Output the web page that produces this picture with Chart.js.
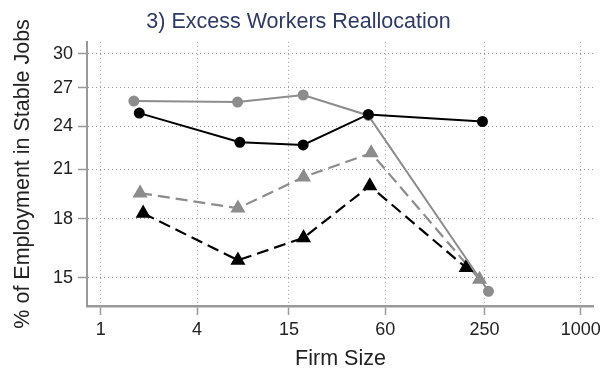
<!DOCTYPE html>
<html>
<head>
<meta charset="utf-8">
<script src="https://cdn.jsdelivr.net/npm/chart.js@4"></script>
<style>
  html, body { margin: 0; padding: 0; background: #fff; }
  #wrap { width: 605px; height: 381px; }
</style>
</head>
<body>
<div id="wrap"><canvas id="chart" width="605" height="381"></canvas></div>
<script>
// Firm size ticks and employment ticks (both axes logarithmic)
const xTicks = [1, 4, 15, 60, 250, 1000];
const yTicks = [15, 18, 21, 24, 27, 30];

// Series: firm size (x) and % employment (y)
const blackCircleX = [1.74, 7.4, 18.4, 47, 243];
const blackCircleY = [24.98, 22.82, 22.64, 24.88, 24.34];

const grayCircleX = [1.61, 7.16, 18.4, 47, 265];
const grayCircleY = [25.93, 25.85, 26.42, 24.8, 14.39];

const grayTriangleX = [1.76, 7.2, 18.5, 49, 233];
const grayTriangleY = [19.5, 18.61, 20.49, 22.08, 14.93];

const blackTriangleX = [1.84, 7.2, 18.5, 48, 192];
const blackTriangleY = [18.32, 15.84, 16.98, 19.94, 15.48];

const colors = {
    black: '#000000',
    gray: '#8c8c8c',
    axis: '#999999',
    grid: '#9a9a9a',
    text: '#222222',
    title: '#2e3a66'
};

const toPoints = (xs, ys) => xs.map((x, i) => ({ x: x, y: ys[i] }));

const fontFamily = '"Liberation Sans", Arial, Helvetica, sans-serif';

const ctx = document.getElementById('chart').getContext('2d');
new Chart(ctx, {
    type: 'scatter',
    data: {
        datasets: [{
            data: toPoints(blackCircleX, blackCircleY),
            showLine: true,
            borderColor: colors.black,
            backgroundColor: colors.black,
            borderWidth: 2,
            pointStyle: 'circle',
            pointRadius: 4.5
        }, {
            data: toPoints(grayCircleX, grayCircleY),
            showLine: true,
            borderColor: colors.gray,
            backgroundColor: colors.gray,
            borderWidth: 2,
            pointStyle: 'circle',
            pointRadius: 4.5
        }, {
            data: toPoints(blackTriangleX, blackTriangleY),
            showLine: true,
            borderColor: colors.black,
            backgroundColor: colors.black,
            borderWidth: 2.2,
            borderDash: [12, 6],
            pointStyle: 'triangle',
            pointRadius: 6.5
        }, {
            data: toPoints(grayTriangleX, grayTriangleY),
            showLine: true,
            borderColor: colors.gray,
            backgroundColor: colors.gray,
            borderWidth: 2.2,
            borderDash: [12, 6],
            pointStyle: 'triangle',
            pointRadius: 6.5
        }]
    },
    options: {
        responsive: false,
        animation: false,
        layout: {
            padding: { left: 0, right: 8, top: 0, bottom: 0 }
        },
        plugins: {
            legend: { display: false },
            tooltip: { enabled: false },
            title: {
                display: true,
                text: '3) Excess Workers Reallocation',
                color: colors.title,
                font: { family: fontFamily, size: 21.5, weight: 'normal' },
                padding: { top: 9, bottom: 7 }
            }
        },
        scales: {
            x: {
                type: 'logarithmic',
                min: 0.82,
                max: 1210,
                afterBuildTicks: scale => {
                    scale.ticks = xTicks.map(v => ({ value: v }));
                },
                afterFit: scale => { scale.height = 75; },
                border: { color: colors.axis, width: 2.5, dash: [1, 3] },
                grid: {
                    color: colors.grid,
                    tickColor: colors.axis,
                    tickLength: 9,
                    tickWidth: 1.5,
                    tickBorderDash: []
                },
                ticks: {
                    color: colors.text,
                    font: { family: fontFamily, size: 18 },
                    padding: 4,
                    maxRotation: 0,
                    autoSkip: false,
                    callback: value => String(value)
                },
                title: {
                    display: true,
                    text: 'Firm Size',
                    color: colors.text,
                    font: { family: fontFamily, size: 21.5 },
                    padding: { top: 2, bottom: 9 }
                }
            },
            y: {
                type: 'logarithmic',
                min: 13.75,
                max: 31.15,
                afterBuildTicks: scale => {
                    scale.ticks = yTicks.map(v => ({ value: v }));
                },
                afterFit: scale => { scale.width = 87; },
                border: { color: colors.axis, width: 2, dash: [1, 3] },
                grid: {
                    color: colors.grid,
                    tickColor: colors.axis,
                    tickLength: 9,
                    tickWidth: 1.5,
                    tickBorderDash: []
                },
                ticks: {
                    color: colors.text,
                    font: { family: fontFamily, size: 18 },
                    padding: 5,
                    autoSkip: false,
                    callback: value => String(value)
                },
                title: {
                    display: true,
                    text: '% of Employment in Stable Jobs',
                    color: colors.text,
                    font: { family: fontFamily, size: 21.5 },
                    padding: { top: 10, bottom: 0 }
                }
            }
        }
    }
});
</script>
</body>
</html>
